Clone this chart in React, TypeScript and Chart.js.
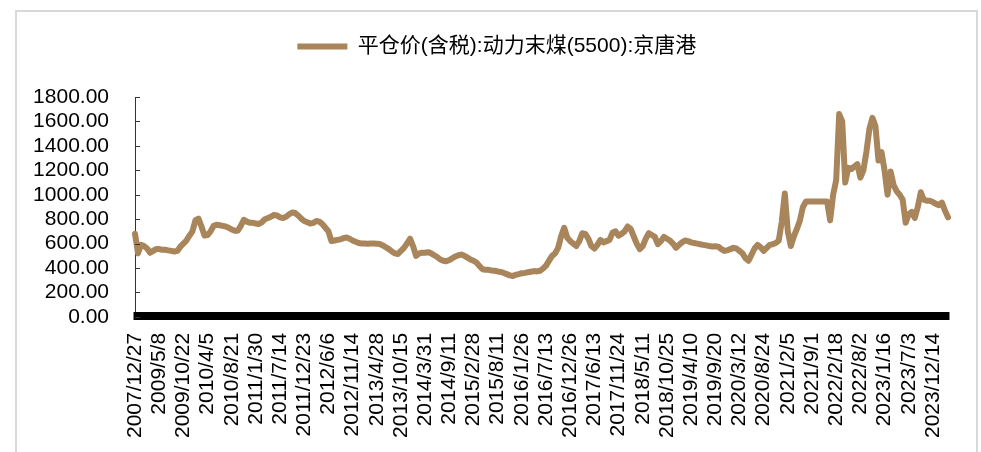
import React, { useEffect, useRef } from "react";
import Chart from "chart.js/auto";

const SERIES_NAME = "平仓价(含税):动力末煤(5500):京唐港";

// tick labels shown on the category axis (one every POINTS_PER_LABEL points)
const tickDates: string[] = [
  "2007/12/27", "2009/5/8", "2009/10/22", "2010/4/5", "2010/8/21", "2011/1/30",
  "2011/7/14", "2011/12/23", "2012/6/6", "2012/11/14", "2013/4/28", "2013/10/15",
  "2014/3/31", "2014/9/11", "2015/2/28", "2015/8/11", "2016/1/26", "2016/7/13",
  "2016/12/26", "2017/6/13", "2017/11/24", "2018/5/11", "2018/10/25", "2019/4/10",
  "2019/9/20", "2020/3/12", "2020/8/24", "2021/2/5", "2021/9/1", "2022/2/18",
  "2022/8/2", "2023/1/16", "2023/7/3", "2023/12/14",
];

const POINTS_PER_LABEL = 8;

// price values (yuan/ton)
const priceValues: number[] = [
  680, 520, 590, 580, 560, 525, 540, 555, 555, 550,
  550, 545, 540, 535, 540, 575, 600, 625, 665, 700,
  790, 805, 740, 665, 670, 700, 745, 755, 750, 745,
  740, 730, 715, 705, 705, 745, 795, 780, 770, 770,
  765, 760, 775, 800, 810, 820, 835, 830, 815, 810,
  820, 840, 855, 850, 830, 805, 785, 775, 765, 770,
  785, 780, 760, 730, 700, 620, 625, 630, 635, 645,
  650, 640, 625, 615, 605, 600, 600, 598, 600, 600,
  598, 596, 585, 570, 555, 535, 520, 515, 540, 565,
  600, 640, 580, 500, 520, 525, 525, 530, 520, 505,
  490, 470, 460, 455, 465, 480, 495, 505, 510, 500,
  485, 470, 460, 445, 415, 390, 385, 385, 380, 378,
  372, 368, 360, 350, 340, 335, 345, 350, 358, 360,
  365, 370, 375, 372, 378, 395, 420, 460, 500, 520,
  565, 660, 730, 650, 620, 600, 580, 620, 685, 680,
  640, 580, 560, 590, 630, 610, 620, 630, 690, 700,
  665, 680, 700, 740, 720, 660, 600, 555, 580, 640,
  685, 670, 655, 595, 620, 655, 640, 625, 600, 565,
  590, 610, 625, 620, 610, 605, 600, 595, 590, 585,
  580, 577, 578, 575, 555, 540, 545, 555, 565, 560,
  540, 520, 480, 460, 510, 560, 590, 570, 540, 565,
  590, 595, 605, 625, 780, 1010, 700, 580, 660, 720,
  790, 900, 945, 945, 945, 945, 945, 945, 945, 945,
  790, 1000, 1120, 1660, 1600, 1100, 1220, 1210, 1230, 1250,
  1140, 1200, 1350, 1540, 1630, 1560, 1280, 1350, 1200, 1000,
  1190, 1080, 1030, 1000, 960, 770, 840, 860, 810, 900,
  1020, 960, 950, 950, 940, 925, 915, 935, 870, 815,
];

const Y_MIN = 0;
const Y_MAX = 1800;
const Y_STEP = 200;

const FONT_FAMILY = '"Liberation Sans", Arial, "Noto Sans CJK SC", sans-serif';
const LINE_COLOR = "#A9855B";

export default function App() {
  const canvasRef = useRef<HTMLCanvasElement | null>(null);

  useEffect(() => {
    document.documentElement.style.overflow = "hidden";
    document.body.style.overflow = "hidden";
    const canvas = canvasRef.current;
    if (!canvas) return;

    const categories = priceValues.map((_, i) =>
      i % POINTS_PER_LABEL === 0 ? tickDates[i / POINTS_PER_LABEL] ?? "" : ""
    );

    const legendGap = {
      id: "legendGap",
      beforeInit(chart: any) {
        const orig = chart.legend.fit;
        chart.legend.fit = function () {
          orig.call(this);
          this.height += 30;
        };
      },
    };

    const axisTicks = {
      id: "axisTicks",
      afterDraw(chart: any) {
        const { ctx, chartArea } = chart;
        const x = chart.scales.x;
        const y = chart.scales.y;
        ctx.save();
        ctx.strokeStyle = "#000";
        ctx.lineWidth = 3;
        ctx.beginPath();
        x.ticks.forEach((_: any, i: number) => {
          const px = x.getPixelForTick(i);
          ctx.moveTo(px, chartArea.bottom - 5);
          ctx.lineTo(px, chartArea.bottom + 3);
        });
        ctx.stroke();
        ctx.lineWidth = 1;
        ctx.strokeStyle = "#333";
        ctx.beginPath();
        y.ticks.forEach((_: any, i: number) => {
          const py = Math.round(y.getPixelForTick(i)) + 0.5;
          ctx.moveTo(chartArea.left, py);
          ctx.lineTo(chartArea.left + 5, py);
        });
        ctx.stroke();
        ctx.restore();
      },
    };

    const chart = new Chart(canvas, {
      type: "line",
      data: {
        labels: categories,
        datasets: [
          {
            label: SERIES_NAME,
            data: priceValues,
            borderColor: LINE_COLOR,
            backgroundColor: LINE_COLOR,
            borderWidth: 6,
            borderCapStyle: "round",
            borderJoinStyle: "round",
            pointRadius: 0,
            tension: 0,
          },
        ],
      },
      options: {
        animation: false,
        responsive: false,
        maintainAspectRatio: false,
        devicePixelRatio: 1,
        layout: { padding: { left: 16, right: 15.4, top: 14, bottom: 10 } },
        plugins: {
          legend: {
            position: "top",
            align: "center",
            labels: {
              usePointStyle: true,
              pointStyle: "line",
              pointStyleWidth: 50,
              boxHeight: 21,
              color: "#000",
              padding: 10,
              font: { family: FONT_FAMILY, size: 21 },
            },
          },
          tooltip: { enabled: false },
        },
        scales: {
          x: {
            type: "category",
            offset: false,
            grid: { display: false, drawTicks: false },
            border: { display: true, color: "#000", width: 1 },
            afterFit: (scale: any) => {
              scale.paddingLeft = 0;
              scale.paddingRight = 28;
            },
            ticks: {
              autoSkip: false,
              maxRotation: 90,
              minRotation: 90,
              padding: 16,
              color: "#000",
              font: { family: FONT_FAMILY, size: 21 },
            },
          },
          y: {
            min: Y_MIN,
            max: Y_MAX,
            grid: { display: false, drawTicks: false },
            border: { display: true, color: "#333", width: 1 },
            afterFit: (scale: any) => {
              scale.width = 102;
            },
            ticks: {
              autoSkip: false,
              stepSize: Y_STEP,
              padding: 26,
              color: "#000",
              font: { family: FONT_FAMILY, size: 21 },
              callback: (v: any) => Number(v).toFixed(2),
            },
          },
        },
      },
      plugins: [legendGap, axisTicks],
    });

    return () => chart.destroy();
  }, []);

  return (
    <div
      style={{
        position: "absolute",
        left: 15,
        top: 10,
        width: 963,
        height: 470,
        border: "2px solid #d9d9d9",
        boxSizing: "border-box",
        overflow: "hidden",
        background: "#fff",
      }}
    >
      <canvas ref={canvasRef} width={959} height={452} style={{ display: "block" }} />
    </div>
  );
}
